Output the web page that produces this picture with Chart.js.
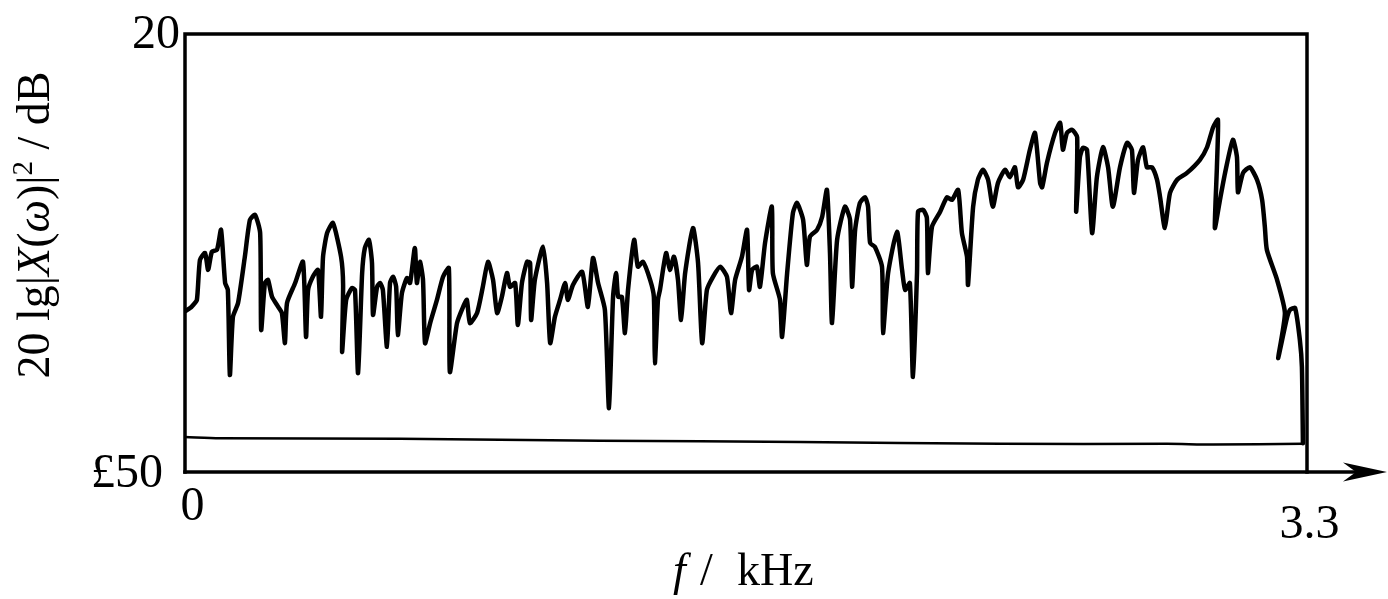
<!DOCTYPE html>
<html>
<head>
<meta charset="utf-8">
<script src="https://cdn.jsdelivr.net/npm/chart.js@4.4.1/dist/chart.umd.min.js"></script>
<style>
  html, body { margin: 0; padding: 0; background: #fff; }
  #wrap { position: relative; width: 1388px; height: 599px; }
</style>
</head>
<body>
<div id="wrap"><canvas id="c" width="1388" height="599"></canvas></div>
<script>
// ---- data ----
const X_MIN = 0, X_MAX = 3.3;
const Y_MIN = -50, Y_MAX = 20;

const freqKHz = [
0.000,0.015,0.024,0.035,0.044,0.059,0.068,0.079,0.094,0.106,
0.118,0.126,0.132,0.141,0.156,0.176,0.191,0.206,0.221,0.224,
0.235,0.244,0.256,0.274,0.285,0.294,0.300,0.324,0.347,0.356,
0.362,0.376,0.391,0.400,0.406,0.418,0.435,0.459,0.465,0.462,
0.474,0.491,0.500,0.509,0.521,0.529,0.541,0.550,0.553,0.565,
0.574,0.582,0.594,0.603,0.612,0.621,0.626,0.638,0.653,0.662,
0.676,0.682,0.691,0.700,0.706,0.721,0.741,0.759,0.776,0.779,
0.800,0.818,0.829,0.838,0.859,0.876,0.891,0.906,0.918,0.932,
0.947,0.956,0.971,0.979,0.991,1.006,1.015,1.018,1.029,1.053,
1.065,1.074,1.088,1.103,1.118,1.126,1.141,1.168,1.185,1.200,
1.215,1.235,1.247,1.259,1.268,1.274,1.285,1.294,1.303,1.321,
1.332,1.347,1.368,1.379,1.382,1.391,1.397,1.415,1.426,1.438,
1.450,1.459,1.471,1.494,1.509,1.521,1.535,1.553,1.574,1.594,
1.606,1.618,1.638,1.653,1.659,1.668,1.682,1.691,1.706,1.726,
1.729,1.750,1.756,1.771,1.788,1.800,1.818,1.829,1.838,1.859,
1.874,1.888,1.897,1.903,1.918,1.941,1.956,1.962,1.971,1.985,
2.000,2.009,2.015,2.029,2.050,2.053,2.068,2.094,2.109,2.118,
2.132,2.141,2.153,2.156,2.171,2.182,2.185,2.197,2.221,2.241,
2.256,2.274,2.285,2.300,2.303,2.318,2.332,2.347,2.362,2.376,
2.391,2.412,2.426,2.441,2.450,2.465,2.485,2.500,2.515,2.521,
2.535,2.559,2.574,2.582,2.594,2.609,2.624,2.621,2.632,2.641,
2.653,2.668,2.682,2.700,2.715,2.729,2.750,2.771,2.785,2.791,
2.803,2.818,2.829,2.844,2.859,2.868,2.882,2.897,2.918,2.947,
2.985,3.006,3.024,3.038,3.035,3.029,3.044,3.059,3.082,3.094,
3.097,3.112,3.132,3.153,3.168,3.176,3.182,3.212,3.235,3.215,
3.241,3.250,3.265,3.279,3.285,3.288
];

const levelDB = [
-24.3,-23.8,-23.3,-22.5,-16.1,-15.0,-17.7,-14.8,-14.5,-11.3,
-19.8,-20.9,-34.5,-25.2,-23.0,-15.6,-9.7,-8.9,-11.8,-27.3,
-19.8,-19.3,-22.0,-23.6,-24.6,-29.4,-23.0,-19.8,-16.4,-28.4,
-20.9,-18.8,-17.7,-25.2,-15.6,-11.8,-10.2,-15.6,-20.1,-30.8,
-22.5,-20.6,-20.9,-34.2,-18.2,-14.2,-12.9,-16.6,-24.9,-20.4,
-19.8,-20.9,-30.0,-19.8,-18.8,-20.4,-28.1,-21.4,-19.0,-19.8,
-14.2,-19.8,-16.4,-19.3,-29.4,-26.2,-22.5,-18.8,-17.4,-34.0,
-26.2,-23.6,-22.5,-26.2,-24.6,-20.4,-16.4,-19.3,-24.6,-22.0,
-18.2,-20.4,-19.8,-26.5,-19.8,-16.4,-16.6,-25.7,-19.3,-14.0,
-19.8,-29.4,-25.2,-22.5,-19.8,-22.5,-20.1,-18.0,-23.6,-15.8,
-19.8,-24.1,-39.8,-22.0,-18.2,-22.0,-22.0,-27.8,-20.9,-12.9,
-17.2,-16.4,-19.3,-22.0,-32.6,-22.5,-20.9,-15.0,-17.7,-15.6,
-19.3,-25.7,-18.2,-11.0,-16.6,-29.4,-20.9,-18.8,-17.2,-18.8,
-24.6,-19.3,-15.6,-11.3,-20.9,-17.7,-17.2,-20.4,-13.4,-7.6,
-18.2,-22.5,-28.4,-18.2,-8.6,-7.0,-9.7,-16.9,-12.4,-11.3,
-9.2,-4.9,-15.0,-26.2,-12.9,-7.6,-9.7,-20.4,-11.3,-7.0,
-6.1,-7.6,-13.4,-14.0,-17.2,-27.8,-18.2,-11.6,-17.7,-20.9,
-19.8,-34.8,-18.2,-8.4,-8.1,-9.4,-18.2,-10.8,-8.4,-6.1,
-6.5,-4.9,-11.8,-15.6,-20.1,-7.6,-3.3,-1.7,-3.3,-7.6,
-3.8,-1.7,-2.9,-1.3,-4.5,-3.3,1.5,4.2,-3.8,-4.5,
-0.6,4.2,5.8,1.5,4.2,4.7,3.5,-8.4,0.3,1.8,
1.5,-11.8,-2.9,1.9,-1.3,-7.6,-1.3,2.6,1.5,-5.4,
-0.1,1.9,-1.3,-1.3,-3.3,-6.1,-11.0,-5.4,-3.3,-2.2,
-0.1,1.9,5.1,6.3,-1.3,-11.0,-6.5,-2.2,3.1,0.3,
-5.3,-2.2,-1.3,-3.3,-6.5,-10.8,-14.5,-19.3,-24.6,-31.8,
-25.4,-24.1,-23.8,-28.9,-33.2,-45.4
];

const floorKHz = [0.000, 0.103, 0.632, 1.221, 1.809, 2.397, 2.888, 3.024, 3.288];
const floorDB  = [-44.4, -44.6, -44.7, -45.0, -45.2, -45.5, -45.5, -45.6, -45.5];

const yTickValues = [20, -50];
const yTickLabels = ['20', '£50'];
const xTickValues = [0, 3.3];
const xTickLabels = ['0', '3.3'];

// ---- drawing ----
const SERIF = '"Liberation Serif", "DejaVu Serif", serif';

const decor = {
  id: 'decor',
  afterDraw(chart) {
    const { ctx } = chart;
    const xs = chart.scales.x, ys = chart.scales.y;
    const L = xs.getPixelForValue(X_MIN), R = xs.getPixelForValue(X_MAX);
    const T = ys.getPixelForValue(Y_MAX), B = ys.getPixelForValue(Y_MIN);
    ctx.save();
    ctx.strokeStyle = '#000';
    ctx.fillStyle = '#000';
    ctx.lineWidth = 3.5;
    ctx.lineCap = 'square';
    // frame
    ctx.beginPath();
    ctx.moveTo(L, B); ctx.lineTo(L, T); ctx.lineTo(R, T); ctx.lineTo(R, B);
    ctx.stroke();
    // x axis with arrow
    const tip = chart.width - 1;
    ctx.beginPath();
    ctx.moveTo(L, B); ctx.lineTo(tip - 25, B);
    ctx.stroke();
    ctx.beginPath();
    ctx.moveTo(tip, B);
    ctx.lineTo(tip - 44, B - 9.5);
    ctx.lineTo(tip - 31, B);
    ctx.lineTo(tip - 44, B + 9.5);
    ctx.closePath();
    ctx.fill();

    // tick labels
    ctx.font = '48px ' + SERIF;
    ctx.textBaseline = 'alphabetic';
    const yOff = [{ dx: -5, dy: 14 }, { dx: -22, dy: 15 }];
    yTickValues.forEach((v, i) => {
      ctx.textAlign = 'right';
      ctx.fillText(yTickLabels[i], L + yOff[i].dx, ys.getPixelForValue(v) + yOff[i].dy);
    });
    const xOff = [{ dx: 7.5, dy: 48 }, { dx: 2.5, dy: 66 }];
    xTickValues.forEach((v, i) => {
      ctx.textAlign = 'center';
      ctx.fillText(xTickLabels[i], xs.getPixelForValue(v) + xOff[i].dx, B + xOff[i].dy);
    });

    // x title: f / kHz
    const cx = (L + R) / 2;
    ctx.textAlign = 'left';
    ctx.font = 'italic 46px ' + SERIF;
    ctx.fillText('f', cx - 73, B + 113);
    ctx.font = '46px ' + SERIF;
    ctx.fillText('/', cx - 46, B + 113);
    ctx.fillText('kHz', cx - 9, B + 113);

    // y title: 20 lg|X(ω)|² / dB  (rotated)
    const fs = 46;
    const segs = [
      { t: '20 lg', f: fs + 'px ' + SERIF },
      { t: '|', f: fs + 'px ' + SERIF },
      { t: 'X', f: 'italic ' + fs + 'px ' + SERIF },
      { t: '(', f: fs + 'px ' + SERIF },
      { t: 'ω', f: 'italic ' + fs + 'px ' + SERIF },
      { t: ')', f: fs + 'px ' + SERIF },
      { t: '|', f: fs + 'px ' + SERIF },
      { t: '2', f: Math.round(fs * 0.62) + 'px ' + SERIF, sup: true },
      { t: ' / dB', f: fs + 'px ' + SERIF }
    ];
    let total = 0;
    segs.forEach(s => { ctx.font = s.f; s.w = ctx.measureText(s.t).width; total += s.w; });
    const midY = (T + B) / 2 - 28;
    ctx.translate(49, midY + total / 2);
    ctx.rotate(-Math.PI / 2);
    let px = 0;
    segs.forEach(s => {
      ctx.font = s.f;
      ctx.fillText(s.t, px, s.sup ? -fs * 0.38 : 0);
      px += s.w;
    });
    ctx.restore();
  }
};

const ctx = document.getElementById('c').getContext('2d');
new Chart(ctx, {
  type: 'line',
  data: {
    datasets: [
      {
        data: freqKHz.map((f, i) => ({ x: f, y: levelDB[i] })),
        borderColor: '#000',
        borderWidth: 4.5,
        pointRadius: 0,
        tension: 0.2,
        borderJoinStyle: 'round',
        borderCapStyle: 'round',
        fill: false
      },
      {
        data: floorKHz.map((f, i) => ({ x: f, y: floorDB[i] })),
        borderColor: '#000',
        borderWidth: 2.5,
        pointRadius: 0,
        tension: 0.3,
        fill: false
      }
    ]
  },
  options: {
    responsive: false,
    animation: false,
    events: [],
    layout: { padding: { left: 185, top: 34, right: 81, bottom: 127 } },
    plugins: { legend: { display: false }, tooltip: { enabled: false } },
    scales: {
      x: { type: 'linear', min: X_MIN, max: X_MAX, display: false },
      y: { type: 'linear', min: Y_MIN, max: Y_MAX, display: false }
    }
  },
  plugins: [decor]
});
</script>
</body>
</html>
